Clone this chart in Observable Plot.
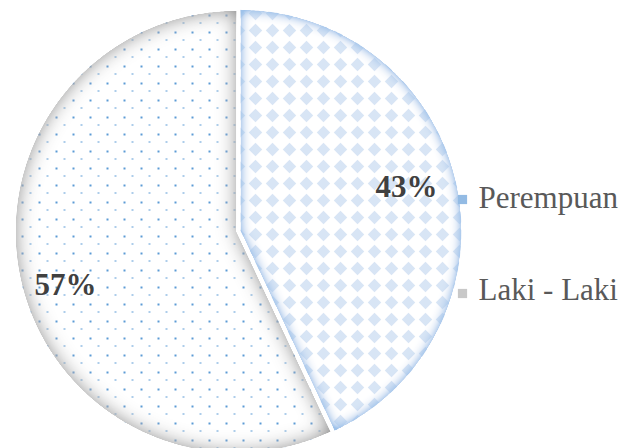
<!DOCTYPE html>
<html>
<head>
<meta charset="utf-8">
<script src="https://cdn.jsdelivr.net/npm/d3@7"></script>
<script src="https://cdn.jsdelivr.net/npm/@observablehq/plot@0.6"></script>
<style>
  html, body { margin: 0; padding: 0; background: #ffffff; }
  #chart svg { display: block; }
</style>
</head>
<body>
<div id="chart"></div>
<script>
// ---- data ----
const categories = ["Perempuan", "Laki - Laki"];
const values = [43, 57];
const valueLabels = ["43%", "57%"];
const legendColors = ["#93bbe4", "#c8c8c8"];
const sliceBase = ["#e4edf8", "#f4f4f4"];
const patternIds = ["diam", "dots"];
const filterIds = ["edgeBlue", "edgeGray"];

// ---- layout ----
const W = 622, H = 448;
const cx = 237, cy = 231, R = 221;
const explode = [3, 1];
const labelPos = [[406, 196], [65, 294]];
const legendX = 462, legendY = [199, 293], legendTextX = 478, legendBase = [207, 299];

const pie = d3.pie().sort(null).value(d => d.value)(categories.map((c, i) => ({category: c, value: values[i]})));

const slicePts = [];
pie.forEach((p, i) => {
  const mid = (p.startAngle + p.endAngle) / 2;
  const ox = cx + explode[i] * Math.sin(mid), oy = cy - explode[i] * Math.cos(mid);
  slicePts.push({k: i, x: ox, y: oy});
  const n = Math.ceil((p.endAngle - p.startAngle) / (Math.PI / 360));
  for (let j = 0; j <= n; j++) {
    const a = p.startAngle + (p.endAngle - p.startAngle) * j / n;
    slicePts.push({k: i, x: ox + R * Math.sin(a), y: oy - R * Math.cos(a)});
  }
  slicePts.push({k: i, x: ox, y: oy});
});

const labelData = valueLabels.map((t, i) => ({t, x: labelPos[i][0], y: labelPos[i][1]}));
const legendData = categories.map((c, i) => ({c, col: legendColors[i], x: legendX, y: legendY[i], tx: legendTextX, ty: legendBase[i]}));

const chart = Plot.plot({
  width: W, height: H,
  margin: 0,
  x: {domain: [0, W], range: [0, W], axis: null},
  y: {domain: [0, H], range: [0, H], axis: null},
  color: {type: "identity"},
  marks: [
    Plot.line(slicePts, {x: "x", y: "y", z: "k", fill: d => sliceBase[d.k], stroke: "#ffffff", strokeOpacity: 0, strokeWidth: 0.01}),
    Plot.text(labelData, {
      x: "x", y: "y", text: "t", lineAnchor: "bottom", textAnchor: "middle",
      fontFamily: "Liberation Serif", fontWeight: "bold", fontSize: 31, fill: "#404040"
    }),
    Plot.dot(legendData, {
      x: "x", y: "y", symbol: "square", r: 5.2, fill: "col", stroke: "col", strokeWidth: 0.01
    }),
    Plot.text(legendData, {
      x: "tx", y: "ty", text: "c", textAnchor: "start", lineAnchor: "bottom",
      fontFamily: "Liberation Serif", fontSize: 31, fill: "#595959"
    })
  ]
});

// patterns & edge shading
const svg = d3.select(chart);
const defs = svg.insert("defs", ":first-child");
const pd = defs.append("pattern").attr("id", "diam").attr("patternUnits", "userSpaceOnUse")
  .attr("x", 8.5).attr("y", 4.5).attr("width", 17).attr("height", 17);
pd.append("rect").attr("width", 17).attr("height", 17).attr("fill", "#ffffff");
pd.append("polygon").attr("points", "8.5,1.8 15.2,8.5 8.5,15.2 1.8,8.5").attr("fill", "#d8e5f5");
const pt = defs.append("pattern").attr("id", "dots").attr("patternUnits", "userSpaceOnUse")
  .attr("x", 4).attr("y", 14).attr("width", 17).attr("height", 17);
pt.append("rect").attr("width", 17).attr("height", 17).attr("fill", "#ffffff");
pt.append("rect").attr("x", 0).attr("y", 0).attr("width", 2).attr("height", 2).attr("fill", "#5b9bd5").attr("shape-rendering", "crispEdges");
pt.append("rect").attr("x", 8).attr("y", 8).attr("width", 2).attr("height", 1).attr("fill", "#5b9bd5").attr("shape-rendering", "crispEdges");

function edgeFilter(id, color, sd, k) {
  const f = defs.append("filter").attr("id", id).attr("filterUnits", "userSpaceOnUse")
    .attr("x", 0).attr("y", 0).attr("width", W).attr("height", H);
  f.append("feGaussianBlur").attr("in", "SourceAlpha").attr("stdDeviation", sd).attr("result", "b");
  f.append("feComposite").attr("in", "SourceAlpha").attr("in2", "b").attr("operator", "arithmetic")
    .attr("k2", k).attr("k3", -k).attr("result", "edge");
  f.append("feFlood").attr("flood-color", color).attr("result", "fl");
  f.append("feComposite").attr("in", "fl").attr("in2", "edge").attr("operator", "in").attr("result", "sh");
  const m = f.append("feMerge");
  m.append("feMergeNode").attr("in", "SourceGraphic");
  m.append("feMergeNode").attr("in", "sh");
}
edgeFilter("edgeBlue", "#9ec2ea", 6, 1.7);
edgeFilter("edgeGray", "#a8a8a8", 10, 1.4);

const slicePaths = chart.querySelector("path").parentNode.querySelectorAll("path");
slicePaths.forEach((el, i) => {
  el.setAttribute("fill", `url(#${patternIds[i]})`);
  el.setAttribute("filter", `url(#${filterIds[i]})`);
});

document.getElementById("chart").appendChild(chart);
</script>
</body>
</html>
